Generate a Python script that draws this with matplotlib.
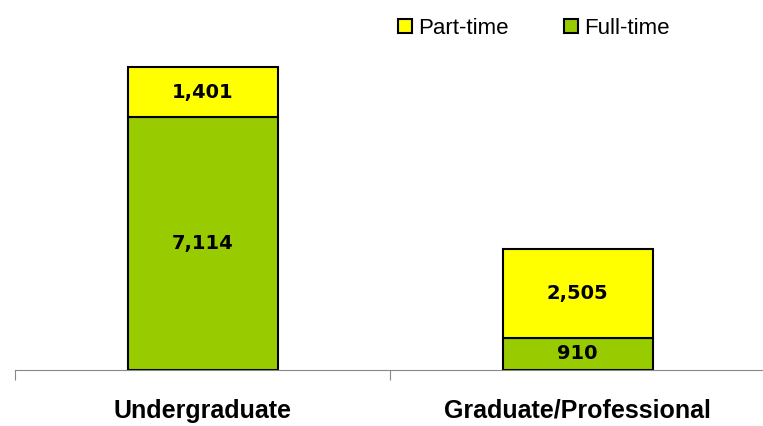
import matplotlib.pyplot as plt
from matplotlib.patches import Patch

categories = ["Undergraduate", "Graduate/Professional"]
full_time = [7114, 910]
part_time = [1401, 2505]
green = "#99CC00"
yellow = "#FFFF00"

fig = plt.figure(figsize=(7.63, 4.26), dpi=100)
ax = fig.add_axes([15 / 763, 56 / 426, 750 / 763, 320 / 426])

x = list(range(len(categories)))
ax.bar(x, full_time, width=0.4, color=green, edgecolor="black", linewidth=1.5)
ax.bar(x, part_time, width=0.4, bottom=full_time, color=yellow,
       edgecolor="black", linewidth=1.5)

for i in x:
    ax.text(i, full_time[i] / 2, f"{full_time[i]:,}", ha="center", va="center",
            fontsize=14, fontweight="bold", family="DejaVu Sans")
    ax.text(i, full_time[i] + part_time[i] / 2, f"{part_time[i]:,}", ha="center",
            va="center", fontsize=14, fontweight="bold", family="DejaVu Sans")

ax.set_xlim(-0.5, 1.5)
ax.set_ylim(0, 9000)
ax.set_yticks([])
for s in ["left", "right", "top"]:
    ax.spines[s].set_visible(False)
ax.spines["bottom"].set_color("#888888")
ax.set_xticks([-0.5, 0.5, 1.5])
ax.set_xticklabels([])
ax.tick_params(axis="x", length=7, color="#888888")

for i, c in enumerate(categories):
    ax.text(i, -48 / 320, c, transform=ax.get_xaxis_transform(), ha="center",
            va="baseline", fontsize=18, fontweight="bold", family="Liberation Sans")

handles = [Patch(facecolor=yellow, edgecolor="black", linewidth=1.5, label="Part-time"),
           Patch(facecolor=green, edgecolor="black", linewidth=1.5, label="Full-time")]
fig.legend(handles=handles, loc="center", bbox_to_anchor=(534 / 763, 1 - 28 / 426),
           ncol=2, frameon=False, prop={"family": "Liberation Sans", "size": 16},
           handlelength=0.6, handleheight=0.6, handletextpad=0.3, columnspacing=2.5,
           borderpad=0, borderaxespad=0)

fig.savefig("out.png", dpi=100)
